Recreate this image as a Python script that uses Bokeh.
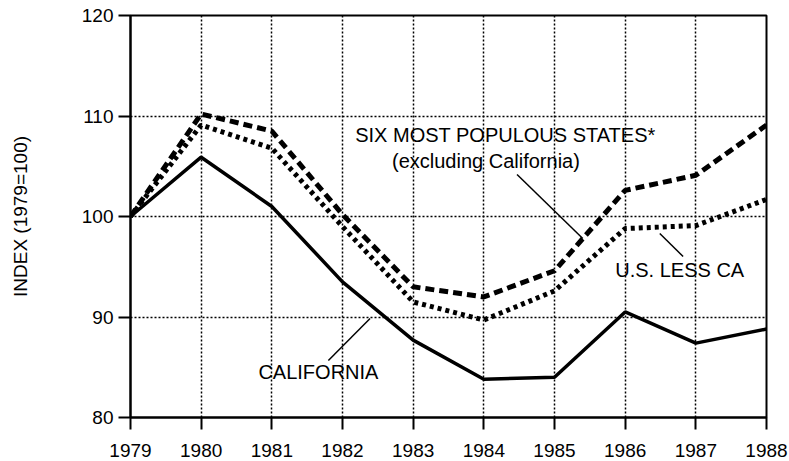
from bokeh.plotting import figure
from bokeh.models import Range1d, FixedTicker, Label
from bokeh.embed import file_html
from bokeh.resources import INLINE

# ---- data ----
years = [1979, 1980, 1981, 1982, 1983, 1984, 1985, 1986, 1987, 1988]
california = [100, 105.9, 101.0, 93.5, 87.7, 83.8, 84.0, 90.5, 87.4, 88.8]
six_states = [100, 110.2, 108.5, 100.2, 93.0, 92.0, 94.6, 102.6, 104.1, 109.1]
us_less_ca = [100, 109.1, 106.8, 99.0, 91.5, 89.7, 92.6, 98.8, 99.1, 101.7]
y_ticks = [80, 90, 100, 110, 120]
y_label = "INDEX (1979=100)"

FONT = "Liberation Sans"

p = figure(frame_width=636, frame_height=402,
           min_border_left=130, min_border_right=23,
           min_border_top=15, min_border_bottom=44,
           x_range=Range1d(1979, 1988), y_range=Range1d(80, 120),
           output_backend="svg", toolbar_location=None)

p.background_fill_color = "white"
p.border_fill_color = "white"
p.outline_line_color = "black"
p.outline_line_width = 2

for ax in (p.xaxis[0], p.yaxis[0]):
    ax.axis_line_color = "black"
    ax.axis_line_width = 2
    ax.major_tick_line_color = "black"
    ax.major_tick_line_width = 2
    ax.major_tick_out = 12
    ax.major_tick_in = 0
    ax.minor_tick_line_color = None
    ax.major_label_text_font = FONT
    ax.major_label_text_font_size = "19px"
    ax.major_label_text_color = "black"

p.xaxis.ticker = FixedTicker(ticks=years)
p.yaxis.ticker = FixedTicker(ticks=y_ticks)
p.xaxis.major_label_standoff = 14
p.xaxis.major_label_text_line_height = 0.8
p.yaxis.major_label_standoff = 5
p.yaxis.axis_label = y_label
p.yaxis.axis_label_text_font = FONT
p.yaxis.axis_label_text_font_size = "19px"
p.yaxis.axis_label_text_font_style = "normal"
p.yaxis.axis_label_text_color = "black"
p.yaxis.axis_label_standoff = 48

for g in (p.xgrid[0], p.ygrid[0]):
    g.grid_line_color = "black"
    g.grid_line_width = 1.5
    g.grid_line_dash = "2 2"
p.xgrid.ticker = FixedTicker(ticks=years[1:-1])
p.ygrid.ticker = FixedTicker(ticks=y_ticks[1:-1])

p.line(years, california, line_color="black", line_width=3.5)
p.line(years, six_states, line_color="black", line_width=5,
       line_dash="9 5")
p.line(years, us_less_ca, line_color="black", line_width=5,
       line_dash="4 4")

# ---- annotations (layout, in data coordinates) ----
labels = [
    ("SIX MOST POPULOUS STATES*", 1982.18, 108.06, "left"),
    ("(excluding California)", 1984.03, 105.57, "center"),
    ("U.S. LESS CA", 1985.86, 94.63, "left"),
    ("CALIFORNIA", 1980.81, 84.48, "left"),
]
for txt, lx, ly, al in labels:
    p.add_layout(Label(x=lx, y=ly, text=txt, text_font=FONT,
                       text_font_size="20px", text_color="black",
                       text_align=al, text_baseline="middle"))

leader_x0 = [1984.47, 1986.49, 1981.80]
leader_y0 = [104.18, 98.31, 85.67]
leader_x1 = [1985.40, 1986.82, 1982.39]
leader_y1 = [97.81, 96.02, 89.85]
p.segment(leader_x0, leader_y0, leader_x1, leader_y1,
          line_color="black", line_width=1.5)

open("out.html", "w").write(file_html(p, INLINE))
